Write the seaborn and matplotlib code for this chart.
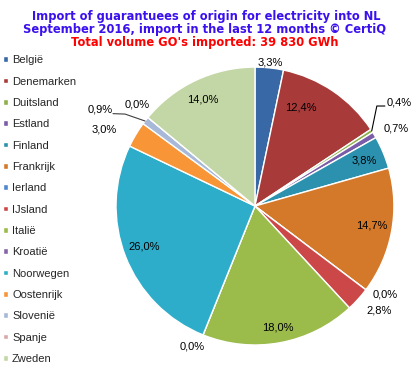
import numpy as np
import matplotlib
matplotlib.use("Agg")
import matplotlib.pyplot as plt
import seaborn as sns

countries = ["België", "Denemarken", "Duitsland", "Estland", "Finland", "Frankrijk",
             "Ierland", "IJsland", "Italië", "Kroatië", "Noorwegen", "Oostenrijk",
             "Slovenië", "Spanje", "Zweden"]
shares = [3.3, 12.4, 0.4, 0.7, 3.8, 14.7, 0.0, 2.8, 18.0, 0.0, 26.0, 3.0, 0.9, 0.0, 14.0]
colors = ["#3868a6", "#a83a3a", "#8db04a", "#7b5ca8", "#2b91ae", "#d4782a",
          "#4f86d0", "#cc4748", "#9bbb4b", "#8466a8", "#2eadcb", "#f79537",
          "#a8b8d8", "#d8a8a8", "#c3d6a5"]
title_lines = ["Import of guarantuees of origin for electricity into NL",
               "September 2016, import in the last 12 months © CertiQ"]
subtitle = "Total volume GO's imported: 39 830 GWh"

# label layout (radial distance, angular tweak in degrees)
label_dist = [1.04, 0.78, 1.28, 1.16, 0.85, 0.85, 1.13, 1.17, 0.89, 1.11, 0.85, 1.22, 1.31, 1.12, 0.856]
label_rot = [0, 9, 3, -2, 0, 1, 3, 2, 0, -2, -1, 4, 6, -1, 1]

sns.set_theme(style="white")
plt.rcParams['font.family'] = ['Liberation Sans', 'DejaVu Sans']

fig = plt.figure(figsize=(4.18, 3.72), dpi=100)
fig.patch.set_facecolor("white")
ax = fig.add_axes([0.2775, 0.0726, 0.665, 0.747])

wedges, _ = ax.pie(shares, colors=colors, startangle=90, counterclock=False,
                   wedgeprops=dict(edgecolor="white", linewidth=1.0), radius=1.0)
ax.set_xlim(-1, 1)
ax.set_ylim(-1, 1)
ax.set_aspect("equal")
ax.axis("off")

for w, v, d, rot in zip(wedges, shares, label_dist, label_rot):
    mid = np.deg2rad((w.theta1 + w.theta2) / 2 + rot)
    txt = f"{v:.1f}".replace(".", ",") + "%"
    ax.text(d * np.cos(mid), d * np.sin(mid), txt, ha="center", va="center",
            fontsize=8, color="black", clip_on=False)

# leader lines for tiny slices
ax.plot([0.84, 0.877, 0.935], [0.54, 0.72, 0.72], color="black", lw=0.8, clip_on=False)
ax.plot([-1.022, -0.935, -0.791], [0.665, 0.662, 0.612], color="#404040", lw=0.8, clip_on=False)

title_kw = dict(ha="center", va="center", fontsize=8.3, fontweight="bold", family="DejaVu Sans")
fig.text(206 / 418, 1 - 16.7 / 372, title_lines[0], color="#3b10ee", **title_kw)
fig.text(205 / 418, 1 - 30 / 372, title_lines[1], color="#3b10ee", **title_kw)
fig.text(205 / 418, 1 - 42.7 / 372, subtitle, color="#ff0000", **title_kw)

leg = fig.legend(wedges, countries, loc="upper left", bbox_to_anchor=(1 / 418, 1 - 53 / 372),
                 frameon=False, fontsize=8, handlelength=0.4, handleheight=0.4,
                 handletextpad=0.4, labelspacing=1.02, borderaxespad=0, borderpad=0.2)

fig.savefig("out.png", dpi=100, facecolor="white")
